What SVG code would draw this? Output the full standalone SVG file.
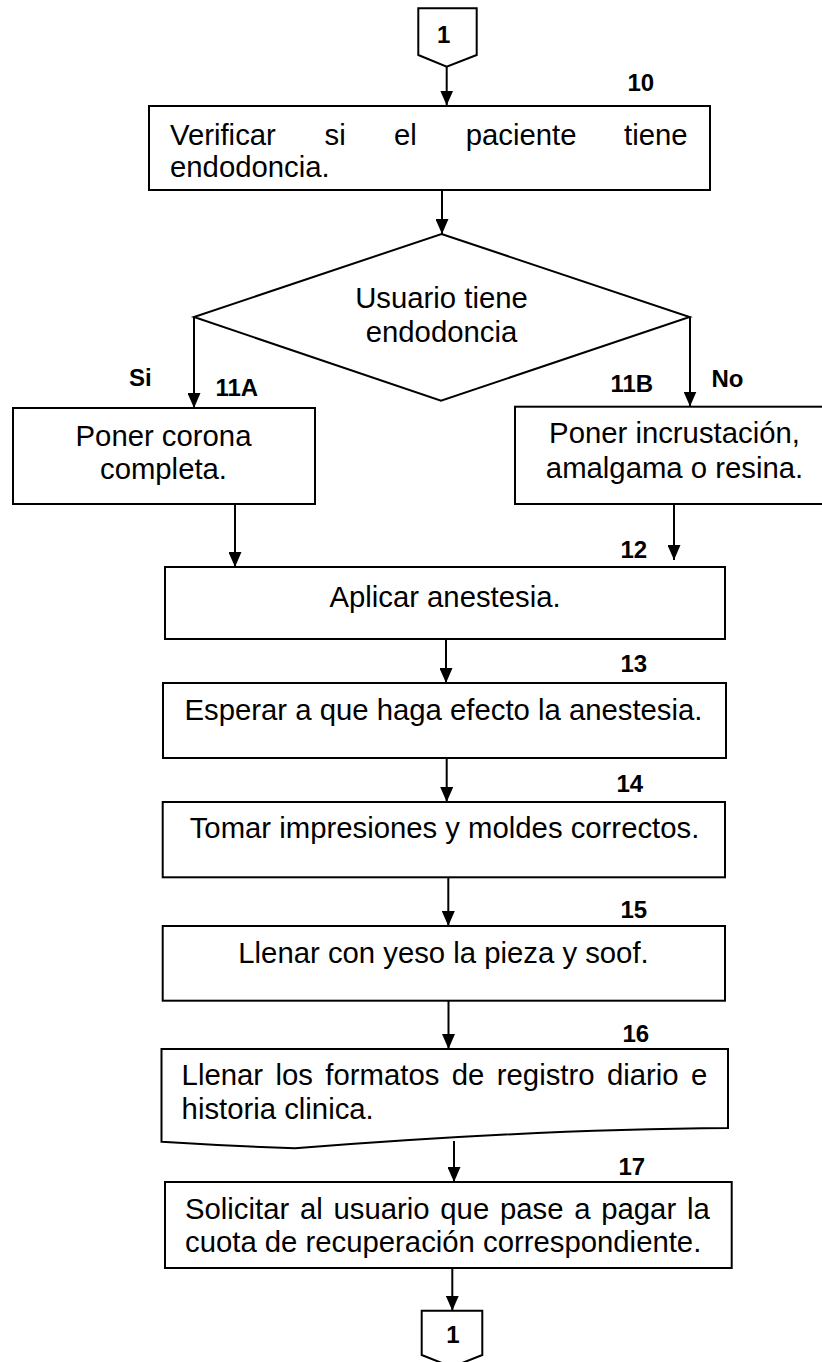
<svg xmlns="http://www.w3.org/2000/svg" width="822" height="1362" viewBox="0 0 822 1362">
<style>
.box{fill:#fff;stroke:#000;stroke-width:2}
.t{font-family:"Liberation Sans",Arial,sans-serif;font-size:29.3px;fill:#000}
.c{text-anchor:middle}
.n{font-family:"Liberation Sans",Arial,sans-serif;font-size:24px;font-weight:bold;fill:#000}
.ln{fill:none;stroke:#000;stroke-width:2;marker-end:url(#ah)}
</style>
<defs>
<marker id="ah" markerUnits="userSpaceOnUse" markerWidth="15" markerHeight="13" refX="15" refY="6.5" orient="auto">
<path d="M0,0 L15,6.5 L0,13 z" fill="#000"/>
</marker>
</defs>
<rect width="822" height="1362" fill="#fff"/>

<g id="connectors">
<line class="ln" x1="446.7" y1="66.7" x2="446.7" y2="105.5"/>
<line class="ln" x1="442" y1="190" x2="442" y2="234"/>
<line class="ln" x1="194" y1="317" x2="194" y2="408"/>
<line class="ln" x1="690" y1="317" x2="690" y2="406.5"/>
<line class="ln" x1="235" y1="504" x2="235" y2="567"/>
<line class="ln" x1="674" y1="504" x2="674" y2="560"/>
<line class="ln" x1="446" y1="639" x2="446" y2="683"/>
<line class="ln" x1="446.7" y1="758" x2="446.7" y2="802"/>
<line class="ln" x1="448.3" y1="877" x2="448.3" y2="926"/>
<line class="ln" x1="448.5" y1="1000.7" x2="448.5" y2="1049"/>
<line class="ln" x1="454" y1="1141" x2="454" y2="1182"/>
<line class="ln" x1="452.3" y1="1268" x2="452.3" y2="1310.7"/>
</g>

<g id="conn-top">
<path class="box" d="M418.3,8.3 H476.7 V55 L446.7,66.7 L418.3,55 Z"/>
<text class="n c" x="443.7" y="43.3">1</text>
</g>

<g id="step10">
<rect class="box" x="149" y="106" width="561" height="84"/>
<text class="t" y="145"><tspan x="170">Verificar</tspan><tspan x="324.5">si</tspan><tspan x="394">el</tspan><tspan x="465.7">paciente</tspan><tspan x="624">tiene</tspan></text>
<text class="t" x="170" y="177">endodoncia.</text>
<text class="n" x="627.5" y="91">10</text>
</g>

<g id="decision">
<path class="box" d="M441.5,234 L689.6,317 L441,400.7 L194,317 Z"/>
<text class="t c" x="441.5" y="308">Usuario tiene</text>
<text class="t c" x="441.5" y="342">endodoncia</text>
<text class="n" x="129" y="386">Si</text>
<text class="n" x="711.5" y="387">No</text>
</g>

<g id="step11A">
<rect class="box" x="13" y="408" width="302" height="96"/>
<text class="t c" x="163.5" y="446">Poner corona</text>
<text class="t c" x="163.5" y="479">completa.</text>
<text class="n" x="215.5" y="396">11A</text>
</g>

<g id="step11B">
<rect class="box" x="515" y="406.7" width="320" height="97.3"/>
<text class="t c" x="674.5" y="443">Poner incrustación,</text>
<text class="t c" x="674.5" y="478">amalgama o resina.</text>
<text class="n" x="610.5" y="392">11B</text>
</g>

<g id="step12">
<rect class="box" x="165" y="567" width="560" height="72"/>
<text class="t c" x="445" y="607">Aplicar anestesia.</text>
<text class="n" x="620.5" y="558">12</text>
</g>

<g id="step13">
<rect class="box" x="163" y="683" width="563" height="75"/>
<text class="t c" x="443.5" y="720">Esperar a que haga efecto la anestesia.</text>
<text class="n" x="620.5" y="672">13</text>
</g>

<g id="step14">
<rect class="box" x="162.7" y="802" width="562.3" height="75.3"/>
<text class="t c" x="444.5" y="838">Tomar impresiones y moldes correctos.</text>
<text class="n" x="616.5" y="792">14</text>
</g>

<g id="step15">
<rect class="box" x="162.7" y="926" width="562.3" height="74.7"/>
<text class="t c" x="443.5" y="963">Llenar con yeso la pieza y soof.</text>
<text class="n" x="620.5" y="917.5">15</text>
</g>

<g id="step16">
<path class="box" d="M161.5,1049 H728 V1128 C 560,1129 400,1140 295,1148.3 Q 230,1146 161.5,1141.7 Z"/>
<text class="t" x="181.6" y="1085" word-spacing="4.3">Llenar los formatos de registro diario e</text>
<text class="t" x="181.6" y="1119">historia clinica.</text>
<text class="n" x="622.5" y="1042">16</text>
</g>

<g id="step17">
<rect class="box" x="165" y="1182" width="566.7" height="86"/>
<text class="t" x="185" y="1219" word-spacing="2.6">Solicitar al usuario que pase a pagar la</text>
<text class="t" x="185" y="1252">cuota de recuperación correspondiente.</text>
<text class="n" x="618.5" y="1175">17</text>
</g>

<g id="conn-bottom">
<path class="box" d="M421.7,1310.7 H482.3 V1355 L452,1367 L421.7,1355 Z"/>
<text class="n c" x="453" y="1343">1</text>
</g>
</svg>
